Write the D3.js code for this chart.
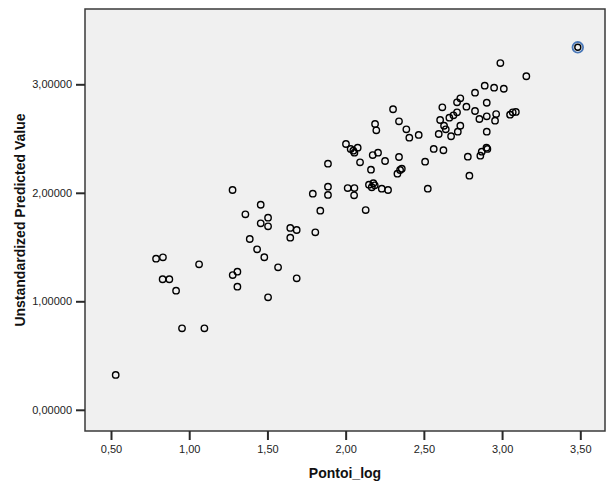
<!DOCTYPE html>
<html><head><meta charset="utf-8">
<script src="https://cdn.jsdelivr.net/npm/d3@7/dist/d3.min.js"></script>
<style>body{margin:0;background:#fff;} svg{display:block;}</style>
</head><body>
<svg id="chart" width="612" height="485"></svg>
<script>
const xTicks = [0.5, 1.0, 1.5, 2.0, 2.5, 3.0, 3.5];
const yTicks = [0, 1, 2, 3];
const xLabel = "Pontoi_log";
const yLabel = "Unstandardized Predicted Value";

const xVals = [
 1.277,1.457,1.359,1.504,1.457,1.504,1.646,1.687,1.646,1.387,1.434,1.480,1.568,1.687,1.504,
 0.788,0.832,1.063,1.278,1.308,1.308,0.830,0.873,0.916,0.954,1.097,0.530,1.806,
 2.303,2.618,2.341,2.188,2.196,2.388,2.407,2.467,2.604,2.629,2.640,2.595,2.563,2.625,2.508,
 2.002,2.032,2.056,2.077,2.049,2.173,2.207,2.092,2.252,2.341,2.162,2.359,2.348,2.331,1.887,
 1.790,1.887,1.887,2.013,2.056,2.054,2.149,2.177,2.186,2.167,2.231,2.271,2.525,1.838,2.128,
 2.989,3.155,2.889,2.949,3.011,2.827,2.733,2.712,2.902,2.772,2.712,2.689,2.663,2.827,2.855,
 2.902,2.962,2.955,3.051,3.068,3.088,2.733,2.717,2.674,2.902,2.781,2.900,2.906,2.870,2.861,2.791
];
const yVals = [
 2.026,1.890,1.802,1.771,1.719,1.691,1.676,1.657,1.586,1.574,1.479,1.406,1.313,1.212,1.037,
 1.393,1.405,1.341,1.242,1.273,1.135,1.203,1.203,1.098,0.751,0.751,0.321,1.636,
 2.770,2.788,2.659,2.634,2.576,2.585,2.508,2.533,2.671,2.618,2.585,2.542,2.404,2.392,2.287,
 2.450,2.404,2.370,2.416,2.388,2.348,2.370,2.281,2.293,2.330,2.213,2.222,2.210,2.176,2.268,
 1.992,2.056,1.980,2.044,2.044,1.977,2.075,2.088,2.069,2.051,2.038,2.026,2.038,1.835,1.841,
 3.196,3.074,2.987,2.969,2.959,2.923,2.871,2.834,2.830,2.794,2.742,2.714,2.692,2.754,2.680,
 2.705,2.726,2.665,2.720,2.742,2.745,2.618,2.563,2.521,2.563,2.333,2.416,2.404,2.379,2.342,2.158
];
const highlightX = [3.484];
const highlightY = [3.341];

const svg = d3.select("#chart");
const plot = {left: 85, right: 605, top: 9, bottom: 431};

const xScale = d3.scaleLinear().domain([0.5, 3.5]).range([111, 580.3]);
const yScale = d3.scaleLinear().domain([0, 3]).range([409.8, 84.3]);

svg.append("rect")
  .attr("x", plot.left).attr("y", plot.top)
  .attr("width", plot.right - plot.left).attr("height", plot.bottom - plot.top)
  .attr("fill", "#f0f0f0").attr("stroke", "#3a3a3a").attr("stroke-width", 1.5);

const fmtX = d => d3.format(".2f")(d).replace(".", ",");
const fmtY = d => d3.format(".5f")(d).replace(".", ",");

const xAxis = svg.append("g").attr("transform", `translate(0,${plot.bottom})`)
  .call(d3.axisBottom(xScale).tickValues(xTicks).tickSize(9).tickSizeOuter(0).tickPadding(5).tickFormat(fmtX));
const yAxis = svg.append("g").attr("transform", `translate(${plot.left},0)`)
  .call(d3.axisLeft(yScale).tickValues(yTicks).tickSize(9).tickSizeOuter(0).tickPadding(4).tickFormat(fmtY));

[xAxis, yAxis].forEach(a => {
  a.select(".domain").remove();
  a.selectAll(".tick line").attr("stroke", "#2a2a2a").attr("stroke-width", 2);
  a.selectAll(".tick text").attr("fill", "#222").style("font-family", "Arial, 'Liberation Sans', sans-serif").style("font-size", "11px");
});

const pts = xVals.map((x, i) => ({x, y: yVals[i]}));
svg.append("g").selectAll("circle").data(pts).join("circle")
  .attr("cx", d => xScale(d.x)).attr("cy", d => yScale(d.y)).attr("r", 3.2)
  .attr("fill", "none").attr("stroke", "#000").attr("stroke-width", 1.4);

const hl = highlightX.map((x, i) => ({x, y: highlightY[i]}));
const hg = svg.append("g");
hg.selectAll("circle.ring").data(hl).join("circle").attr("class", "ring")
  .attr("cx", d => xScale(d.x)).attr("cy", d => yScale(d.y)).attr("r", 5.3)
  .attr("fill", "none").attr("stroke", "#4a78b8").attr("stroke-width", 1.8);
hg.selectAll("circle.pt").data(hl).join("circle").attr("class", "pt")
  .attr("cx", d => xScale(d.x)).attr("cy", d => yScale(d.y)).attr("r", 3.0)
  .attr("fill", "none").attr("stroke", "#000").attr("stroke-width", 1.4);

svg.append("text").attr("x", 345).attr("y", 478).attr("text-anchor", "middle")
  .style("font-family", "Arial, 'Liberation Sans', sans-serif").style("font-size", "14px").style("font-weight", "bold")
  .attr("fill", "#111").text(xLabel);
svg.append("text").attr("transform", "translate(25,220) rotate(-90)").attr("text-anchor", "middle")
  .style("font-family", "Arial, 'Liberation Sans', sans-serif").style("font-size", "14px").style("font-weight", "bold")
  .attr("fill", "#111").text(yLabel);
</script>
</body></html>
